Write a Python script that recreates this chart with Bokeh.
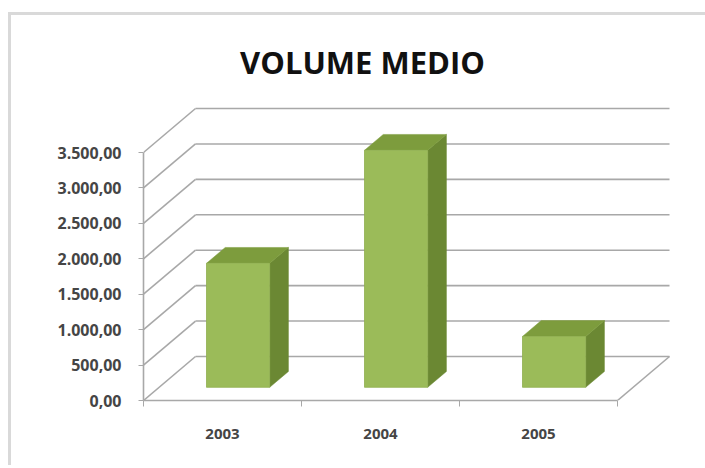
from bokeh.plotting import figure
from bokeh.layouts import column
from bokeh.models import Range1d, FixedTicker, Label
from bokeh.embed import file_html
from bokeh.resources import INLINE

# ---- data ----
years = ["2003", "2004", "2005"]
volume = [1750, 3345, 718]
y_ticks = [0, 500, 1000, 1500, 2000, 2500, 3000, 3500]
chart_title = "VOLUME MEDIO"


def it_fmt(v):
    s = f"{v:,.2f}"
    return s.replace(",", "X").replace(".", ",").replace("X", ".")


# ---- geometry of the oblique 3D projection ----
PX_PER_UNIT = 248.0 / 3500.0      # vertical pixels per value unit
PX_PER_CAT = 158.0                # horizontal pixels per category
DX = 52.0 / PX_PER_CAT            # depth offset (category units)
DY = 44.0 / PX_PER_UNIT           # depth offset (value units)
F0, F1 = 0.30, 0.66               # bar depth span (fraction of floor depth)
BAR_W = 0.40
N = len(years)

GRID = "#a8a8a8"
FRONT = "#9bbb59"
TOP = "#7d9c3d"
SIDE = "#6b8833"

p = figure(width=694, height=450, output_backend="svg", toolbar_location=None,
           x_range=Range1d(0, 562.0 / PX_PER_CAT),
           y_range=Range1d(0, 385.0 / PX_PER_UNIT),
           min_border_left=132, min_border_right=0, min_border_top=0,
           min_border_bottom=65)
p.outline_line_color = None
p.xgrid.grid_line_color = None
p.ygrid.grid_line_color = None
p.background_fill_color = "white"
p.border_fill_color = "white"

# walls: left wall diagonals and back wall horizontals
p.segment(x0=[0] * len(y_ticks), y0=y_ticks,
          x1=[DX] * len(y_ticks), y1=[v + DY for v in y_ticks],
          line_color=GRID, line_width=1.6)
p.segment(x0=[DX] * len(y_ticks), y0=[v + DY for v in y_ticks],
          x1=[N + DX] * len(y_ticks), y1=[v + DY for v in y_ticks],
          line_color=GRID, line_width=1.6)
# floor right edge
p.segment(x0=[N], y0=[0], x1=[N + DX], y1=[DY], line_color=GRID, line_width=1.6)

# bars
for i, v in enumerate(volume):
    c = i + 0.5
    xl0 = c - BAR_W / 2 + F0 * DX
    xr0 = c + BAR_W / 2 + F0 * DX
    y0 = F0 * DY
    top = y0 + v
    ddx = (F1 - F0) * DX
    ddy = (F1 - F0) * DY
    # side face
    p.patch([xr0, xr0 + ddx, xr0 + ddx, xr0],
            [y0, y0 + ddy, top + ddy, top],
            fill_color=SIDE, line_color=SIDE, line_width=0.5)
    # top face
    p.patch([xl0, xr0, xr0 + ddx, xl0 + ddx],
            [top, top, top + ddy, top + ddy],
            fill_color=TOP, line_color=TOP, line_width=0.5)
    # front face
    p.quad(left=[xl0], right=[xr0], bottom=[y0], top=[top],
           fill_color=FRONT, line_color="#8fae4f", line_width=0.8)

# y axis
ya = p.yaxis[0]
ya.ticker = FixedTicker(ticks=y_ticks)
ya.major_label_overrides = {v: it_fmt(v) for v in y_ticks}
ya.bounds = (0, y_ticks[-1])
ya.axis_line_color = GRID
ya.axis_line_width = 1.6
ya.major_tick_line_color = GRID
ya.major_tick_out = 5
ya.major_tick_in = 0
ya.minor_tick_line_color = None
ya.major_label_standoff = 17
ya.major_label_text_font = "Open Sans"
ya.major_label_text_font_size = "16px"
ya.major_label_text_font_style = "bold"
ya.major_label_text_color = "#454545"

# category axis
xa = p.xaxis[0]
xa.ticker = FixedTicker(ticks=[i + 0.5 for i in range(N)], minor_ticks=list(range(N + 1)))
xa.major_label_overrides = {i + 0.5: y for i, y in enumerate(years)}
xa.bounds = (0, N)
xa.axis_line_color = GRID
xa.axis_line_width = 1.6
xa.major_tick_line_color = None
xa.major_tick_out = 0
xa.major_tick_in = 0
xa.minor_tick_line_color = GRID
xa.minor_tick_out = 6
xa.minor_tick_in = 0
xa.major_label_standoff = 22
xa.major_label_text_font = "Open Sans"
xa.major_label_text_font_size = "15px"
xa.major_label_text_font_style = "bold"
xa.major_label_text_color = "#454545"

# title
p.add_layout(Label(x=(362 - 143) / PX_PER_CAT, y=(400 - 61) / PX_PER_UNIT,
                   text=chart_title, text_align="center", text_baseline="alphabetic",
                   text_font="Open Sans", text_font_size="31px",
                   text_font_style="bold", text_color="#111111"))

layout = column(p, margin=(12, 0, 0, 8),
                styles={"border-left": "3px solid #d9d9d9", "border-top": "3px solid #d9d9d9"})

open("out.html", "w").write(file_html(layout, INLINE))
